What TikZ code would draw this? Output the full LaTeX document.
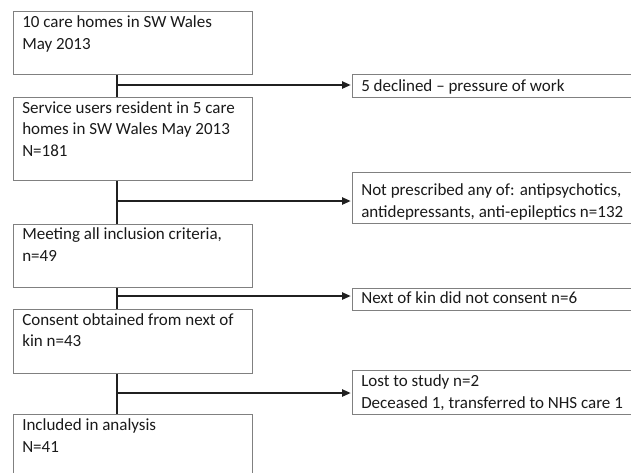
\documentclass[tikz,border=0pt]{standalone}
\usepackage{fontspec}
\setmainfont{Carlito}
\usetikzlibrary{arrows.meta}
\definecolor{boxgray}{HTML}{808080}
\definecolor{txtc}{HTML}{1A1A1A}
\definecolor{linec}{HTML}{202020}
\tikzset{
  box/.style={draw=boxgray, line width=0.8pt, inner sep=0pt, anchor=north west, fill=white},
  sz/.style 2 args={minimum width=#1*0.75pt, minimum height=#2*0.75pt},
  txt/.style={anchor=base west, inner sep=0pt, align=left, text=txtc,
    font=\fontsize{12.75}{16.1}\selectfont},
  conn/.style={draw=linec, line width=1.1pt},
  arr/.style={conn, -{Triangle[length=6.5pt,width=5.5pt]}, shorten >=1pt}
}
\begin{document}
\begin{tikzpicture}[x=0.75pt,y=-0.75pt]
\useasboundingbox (0,0) rectangle (631,472);
\clip (0,0) rectangle (631,472);
\fill[white] (0,0) rectangle (631,472);
% left boxes
\node[box, sz={239}{63}] (b1) at (13,11) {};
\node[box, sz={239}{83}] (b2) at (13,97) {};
\node[box, sz={239}{63}] (b3) at (13,224) {};
\node[box, sz={239}{64}] (b4) at (13,309) {};
\node[box, sz={239}{80}] (b5) at (13,414) {};
% right boxes
\node[box, sz={300}{23}] (r1) at (352,74) {};
\node[box, sz={300}{51}] (r2) at (352,172) {};
\node[box, sz={300}{22}] (r3) at (352,288) {};
\node[box, sz={300}{44}] (r4) at (352,370) {};
% texts (anchored at the baseline of the last line)
\node[txt] (t1) at (22,49) {10 care homes in SW Wales\\May 2013};
\node[txt] (t2) at (22,156) {Service users resident in 5 care\\homes in SW Wales May 2013\\N=181};
\node[txt] (t3) at (22,261) {Meeting all inclusion criteria,\\n=49};
\node[txt] (t4) at (22,346.5) {Consent obtained from next of\\kin n=43};
\node[txt] (t5) at (22,452) {Included in analysis\\N=41};
\node[txt] (s1) at (361,91.5) {5 declined – pressure of work};
\node[txt] (s2) at (361,217) {Not prescribed any of: antipsychotics,\\antidepressants, anti-epileptics n=132};
\node[txt] (s3) at (361,303) {Next of kin did not consent n=6};
\node[txt] (s4) at (361,408) {Lost to study n=2\\Deceased 1, transferred to NHS care 1};
% connectors
\coordinate (vx) at (117,0);
\coordinate (j1) at (117,85);
\coordinate (j2) at (117,201);
\coordinate (j3) at (117,296);
\coordinate (j4) at (117,393);
\draw[conn] (b1.south -| vx) -- (b2.north -| vx);
\draw[conn] (b2.south -| vx) -- (b3.north -| vx);
\draw[conn] (b3.south -| vx) -- (b4.north -| vx);
\draw[conn] (b4.south -| vx) -- (b5.north -| vx);
\draw[arr] (j1) -- (j1 -| r1.west);
\draw[arr] (j2) -- (j2 -| r2.west);
\draw[arr] (j3) -- (j3 -| r3.west);
\draw[arr] (j4) -- (j4 -| r4.west);
\end{tikzpicture}
\end{document}
